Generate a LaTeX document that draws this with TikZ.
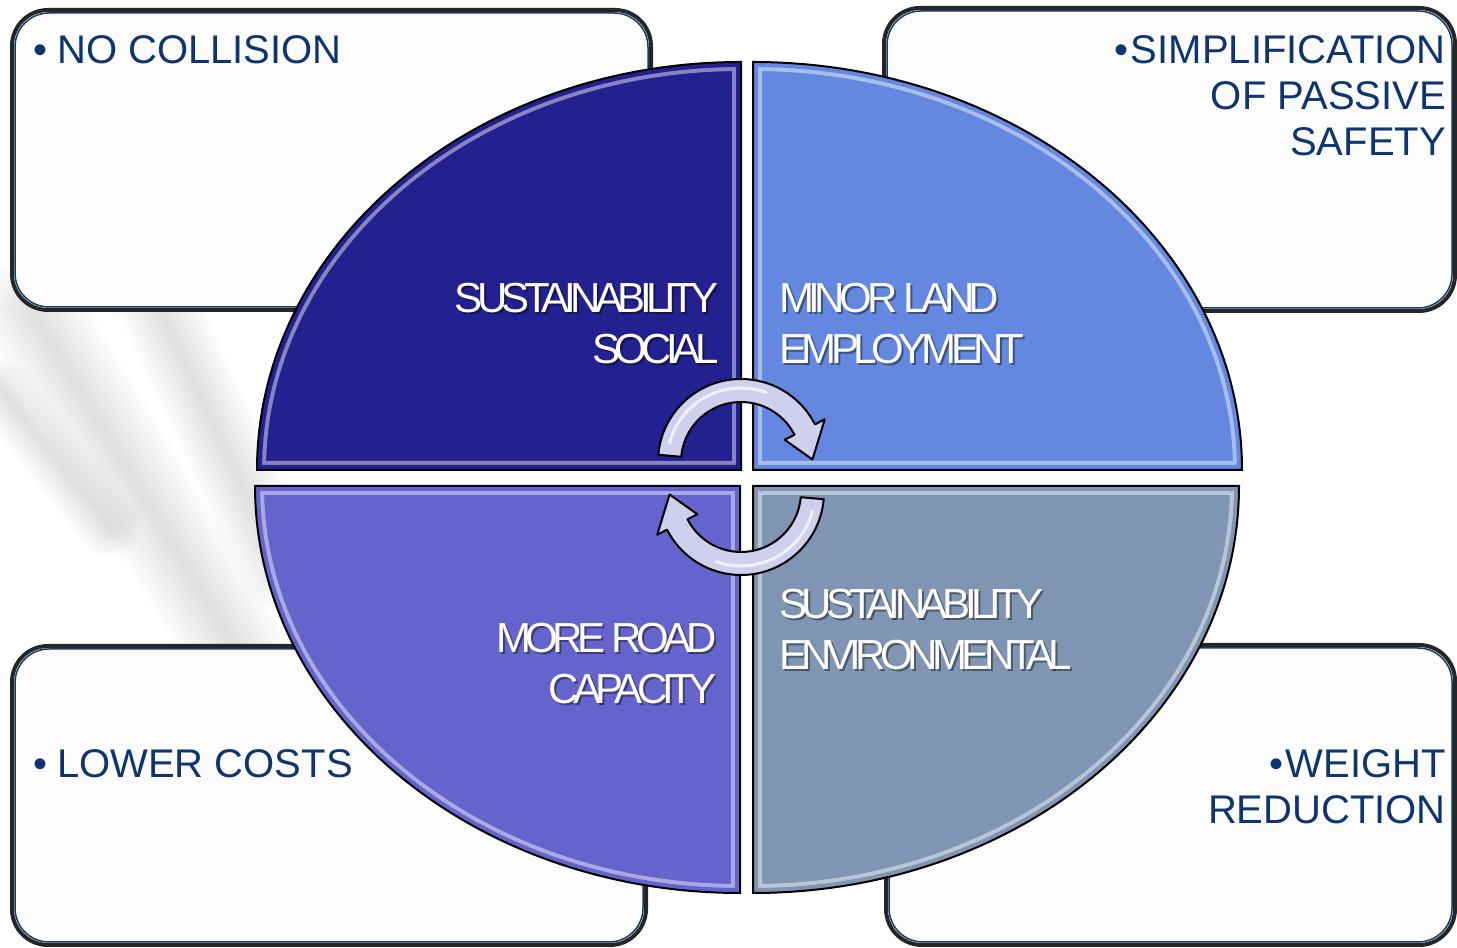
\documentclass[tikz,border=0pt]{standalone}
\usepackage{fontspec}
\setmainfont{Liberation Sans}
\newfontfamily\lblfont[LetterSpace=-13]{Liberation Sans}
\usetikzlibrary{calc}
\definecolor{navy}{HTML}{0E3570}
\definecolor{boxedge}{HTML}{1A3A6A}
\definecolor{qtl}{HTML}{23218F}
\definecolor{qtr}{HTML}{6487E0}
\definecolor{qbl}{HTML}{6464CC}
\definecolor{qbr}{HTML}{8094B3}
\definecolor{arrowfill}{HTML}{CFCFEE}
\newcommand\quadTL{(741,478) -- (257,478) arc[start angle=180,end angle=90,x radius=484,y radius=408] -- cycle}
\newcommand\quadTR{(753,478) -- (753,886) arc[start angle=90,end angle=0,x radius=489,y radius=408] -- cycle}
\newcommand\quadBL{(740,462) -- (255,462) arc[start angle=180,end angle=270,x radius=485,y radius=407] -- cycle}
\newcommand\quadBR{(753,462) -- (753,55) arc[start angle=270,end angle=360,x radius=486,y radius=407] -- cycle}
\newcommand\cycarrow{(175:83) arc[start angle=175,end angle=27,radius=83] -- (27:94) -- (2:71.5) -- (27:49) -- (27:60) arc[start angle=27,end angle=175,radius=60] -- cycle}
\begin{document}
\begin{tikzpicture}[x=1pt,y=1pt,
  infobox/.style={fill=white!98!gray, draw=black!85, line width=4, rounded corners=36},
  infoinner/.style={draw=boxedge, line width=1.5, rounded corners=34},
  bullettext/.style={text=navy, inner sep=0, font=\fontsize{40}{46}\selectfont},
  lbl/.style={text=white, inner sep=0, font=\lblfont\fontsize{42}{51}\selectfont},
  lblshadow/.style={text=black, text opacity=0.4, inner sep=0, font=\lblfont\fontsize{42}{51}\selectfont},
  quadedge/.style={draw=black, line width=2},
  arrowshape/.style={fill=arrowfill, draw=black, line width=2, line join=round},
  streak/.style={draw=gray, opacity=0.025, line cap=round},
]
\useasboundingbox (0,0) rectangle (1457,948);
\clip (0,0) rectangle (1457,948);
\fill[white] (0,0) rectangle (1457,948);
% faint blurred background streaks
\foreach \w in {100,90,...,10} {
  \draw[streak, line width=\w] (30,640) -- (235,300);
  \draw[streak, line width=\w*0.8] (150,660) -- (280,380);
  \draw[streak, line width=\w*0.6] (0,560) -- (110,420);
}

% info boxes
\draw[infobox] (12,638) rectangle (651,938);
\draw[infoinner] (15,641) rectangle (648,935);
\draw[infobox] (884,637) rectangle (1455,940);
\draw[infoinner] (887,640) rectangle (1452,937);
\draw[infobox] (12,3) rectangle (646,302);
\draw[infoinner] (15,6) rectangle (643,299);
\draw[infobox] (886,3) rectangle (1455,303);
\draw[infoinner] (889,6) rectangle (1452,300);

\node[bullettext, anchor=north west, align=left] (tNoColl) at (33,913) {•\hspace{10pt}NO COLLISION};
\node[bullettext, anchor=north east, align=right] (tSimpl) at (1446,913) {•\hspace{2pt}SIMPLIFICATION\\OF PASSIVE\\SAFETY};
\node[bullettext, anchor=north west, align=left] (tLower) at (33,199) {•\hspace{10pt}LOWER COSTS};
\node[bullettext, anchor=north east, align=right] (tWeight) at (1446,199) {•\hspace{2pt}WEIGHT\\REDUCTION};

% quadrants
\begin{scope}
  \clip \quadTL;
  \fill[qtl] \quadTL;
  \draw[white, opacity=0.45, line width=18] \quadTL;
  \draw[qtl, line width=10] \quadTL;
\end{scope}
\draw[quadedge] \quadTL;
\begin{scope}
  \clip \quadTR;
  \fill[qtr] \quadTR;
  \draw[white, opacity=0.45, line width=18] \quadTR;
  \draw[qtr, line width=10] \quadTR;
\end{scope}
\draw[quadedge] \quadTR;
\begin{scope}
  \clip \quadBL;
  \fill[qbl] \quadBL;
  \draw[white, opacity=0.45, line width=18] \quadBL;
  \draw[qbl, line width=10] \quadBL;
\end{scope}
\draw[quadedge] \quadBL;
\begin{scope}
  \clip \quadBR;
  \fill[qbr] \quadBR;
  \draw[white, opacity=0.45, line width=18] \quadBR;
  \draw[qbr, line width=10] \quadBR;
\end{scope}
\draw[quadedge] \quadBR;

% quadrant labels
\node[lblshadow, anchor=north east, align=right] (sTL) at (721,663) {SUSTAINABILITY\\SOCIAL};
\node[lbl, anchor=north east, align=right] (lTL) at (719,665) {SUSTAINABILITY\\SOCIAL};
\node[lblshadow, anchor=north west, align=left] (sTR) at (781,663) {MINOR LAND\\EMPLOYMENT};
\node[lbl, anchor=north west, align=left] (lTR) at (779,665) {MINOR LAND\\EMPLOYMENT};
\node[lblshadow, anchor=north east, align=right] (sBL) at (719,323) {MORE ROAD\\CAPACITY};
\node[lbl, anchor=north east, align=right] (lBL) at (717,325) {MORE ROAD\\CAPACITY};
\node[lblshadow, anchor=north west, align=left] (sBR) at (781,357) {SUSTAINABILITY\\ENVIRONMENTAL};
\node[lbl, anchor=north west, align=left] (lBR) at (779,359) {SUSTAINABILITY\\ENVIRONMENTAL};

% cycle arrows
\begin{scope}[shift={(741,486)}]
  \draw[arrowshape] \cycarrow;
  \draw[white, opacity=0.7, line width=3, line cap=round] (165:74) arc[start angle=165,end angle=70,radius=74];
\end{scope}
\begin{scope}[shift={(741,456)}, rotate=180]
  \draw[arrowshape] \cycarrow;
  \draw[white, opacity=0.7, line width=3, line cap=round] (165:74) arc[start angle=165,end angle=70,radius=74];
\end{scope}
\end{tikzpicture}
\end{document}
